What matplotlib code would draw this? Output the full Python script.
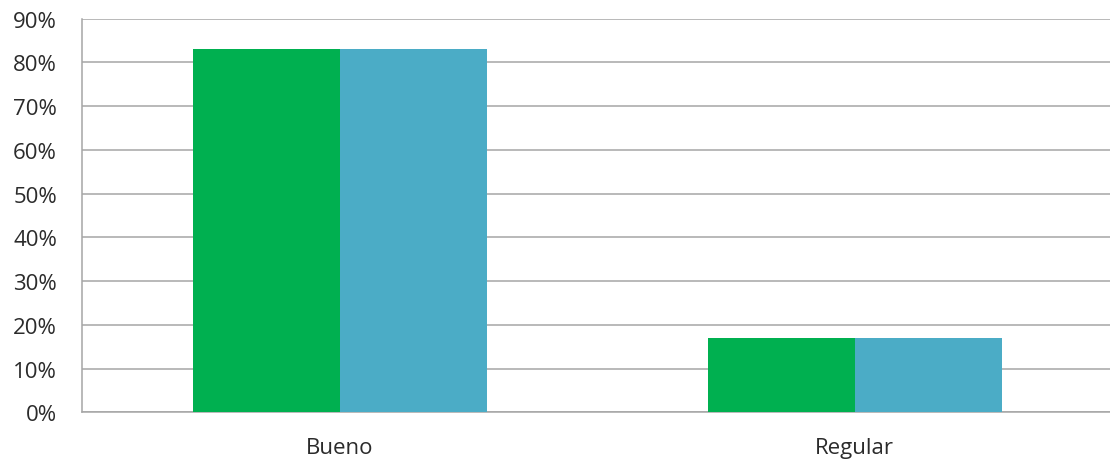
import matplotlib
matplotlib.use("Agg")
import matplotlib.pyplot as plt
import numpy as np
from matplotlib.ticker import FuncFormatter

categories = ["Bueno", "Regular"]
series_green = [83, 17]
series_blue = [83, 17]
y_ticks = list(range(0, 100, 10))

plt.rcParams['font.family'] = ['Open Sans', 'DejaVu Sans']

fig = plt.figure(figsize=(11.10, 4.64), dpi=100)
ax = fig.add_axes([82/1110, 1 - 413.3/464, (1112.5 - 82)/1110, (413.3 - 19.7)/464])

x = np.arange(len(categories))
w = 0.2854
ax.bar(x - w/2, series_green, width=w, color="#00B050", zorder=3)
ax.bar(x + w/2, series_blue, width=w, color="#4BACC6", zorder=3)

ax.set_xlim(-0.5, 1.5)
ax.set_ylim(0, 90)
ax.set_yticks(y_ticks)
ax.yaxis.set_major_formatter(FuncFormatter(lambda v, p: f"{int(round(v))}%"))
ax.set_xticks(x)
ax.set_xticklabels(categories)

ax.grid(axis="y", color="#A6A6A6", linewidth=1.1, zorder=0)
ax.set_axisbelow(True)
for s in ["top", "right"]:
    ax.spines[s].set_visible(False)
for s in ["left", "bottom"]:
    ax.spines[s].set_color("#A6A6A6")
    ax.spines[s].set_linewidth(1.1)

ax.tick_params(axis="y", length=0, pad=18, labelsize=16, labelcolor="#2b2b2b")
ax.tick_params(axis="x", length=0, pad=18, labelsize=16, labelcolor="#2b2b2b")

fig.savefig("out.png", dpi=100)
